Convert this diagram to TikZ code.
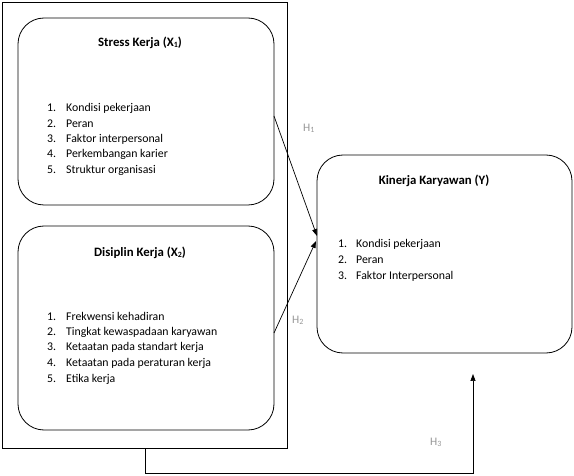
\documentclass[tikz,border=0pt]{standalone}
\usepackage{fontspec}
\setmainfont{Carlito}
\usetikzlibrary{arrows.meta}
\definecolor{hgray}{RGB}{150,150,150}
\tikzset{
  every picture/.style={x=1pt,y=-1pt},
  frame/.style={draw,line width=0.8pt},
  rbox/.style={draw,line width=0.8pt,rounded corners=26pt},
  ttl/.style={font=\fontsize{12.8}{15}\selectfont\bfseries,anchor=base,inner sep=0pt},
  item/.style={font=\fontsize{11.8}{14}\selectfont,anchor=base west,inner sep=0pt},
  hlab/.style={font=\fontsize{11.5}{13}\selectfont,text=hgray,anchor=base west,inner sep=0pt},
  arr/.style={line width=0.7pt,-{Triangle[length=7pt,width=5pt]}}
}
\newcommand{\smallsub}[1]{\raisebox{-0.15ex}{\fontsize{8}{9}\selectfont #1}}
\begin{document}
\begin{tikzpicture}
\useasboundingbox (0,0) rectangle (574,476);
% outer frame
\draw[frame] (2,2) rectangle (287,448);
\coordinate (fb) at (145,448);
% boxes
\draw[rbox] (18,18) rectangle (274,205);
\draw[rbox] (18,226) rectangle (274,430);
\draw[rbox] (317,155) rectangle (572,353);
\coordinate (s1) at (274,116);
\coordinate (s2) at (274,333);
\coordinate (y1) at (317,236);
\coordinate (y2) at (316,241);
\coordinate (y3) at (473,374);
% titles
\node[ttl] (t1) at (140,47) {Stress Kerja (X\smallsub{1})};
\node[ttl] (t2) at (140,257) {Disiplin Kerja (X\smallsub{2})};
\node[ttl] (t3) at (434,185) {Kinerja Karyawan (Y)};
% lists
\foreach \n/\t [count=\i] in {1/Kondisi pekerjaan,2/Peran,3/Faktor interpersonal,4/Perkembangan karier,5/Struktur organisasi}{
  \node[item] (a\i n) at (47,{112+(\i-1)*15.3}) {\n.};
  \node[item] (a\i) at (66,{112+(\i-1)*15.3}) {\t};
}
\foreach \n/\t [count=\i] in {1/Frekwensi kehadiran,2/Tingkat kewaspadaan karyawan,3/Ketaatan pada standart kerja,4/Ketaatan pada peraturan kerja,5/Etika kerja}{
  \node[item] (b\i n) at (47,{320+(\i-1)*15.5}) {\n.};
  \node[item] (b\i) at (66,{320+(\i-1)*15.5}) {\t};
}
\foreach \n/\t [count=\i] in {1/Kondisi pekerjaan,2/Peran,3/Faktor Interpersonal}{
  \node[item] (c\i n) at (338,{248+(\i-1)*16}) {\n.};
  \node[item] (c\i) at (356,{248+(\i-1)*16}) {\t};
}
% H labels
\node[hlab] (h1) at (303,132) {H\smallsub{1}};
\node[hlab] (h2) at (292,324) {H\smallsub{2}};
\node[hlab] (h3) at (430,446) {H\smallsub{3}};
% connectors
\draw[arr] (s1) -- (y1);
\draw[arr] (s2) -- (y2);
\draw[arr] (fb) -- (145,473) -| (y3);
\end{tikzpicture}
\end{document}
